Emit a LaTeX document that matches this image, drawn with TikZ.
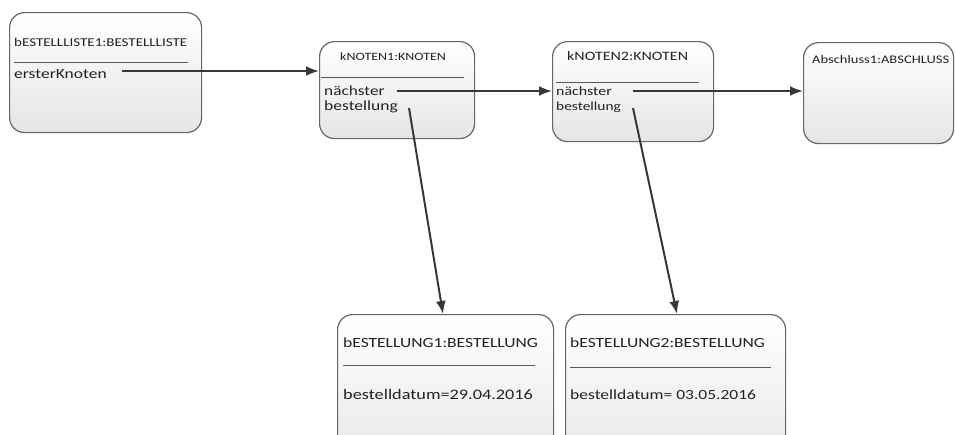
\documentclass[tikz,border=0pt]{standalone}
\usepackage{fontspec}
\setmainfont{Carlito}
\usetikzlibrary{arrows.meta}
\definecolor{edge}{HTML}{666666}
\definecolor{ink}{HTML}{222222}
\definecolor{arrowc}{HTML}{383838}
% horizontally widened text at a given size (px)
\newcommand{\widetxt}[2]{\scalebox{1.25}[1]{\fontsize{#1}{#1}\selectfont #2}}
\begin{document}
\begin{tikzpicture}[x=1pt,y=-1pt,
  objbox/.style={draw=edge, line width=1.2pt, rounded corners=15pt,
    top color=white, bottom color=black!10, anchor=north west, inner sep=0pt},
  lbl/.style={anchor=base west, inner sep=0pt, text=ink},
  sepline/.style={draw=ink!75, line width=1pt},
  link/.style={draw=arrowc, line width=2pt, -{Latex[length=13pt,width=10pt]}}]
\useasboundingbox (0,0) rectangle (955,434);
\clip (0,0) rectangle (955,434);

% object boxes
\node[objbox, minimum width=192pt, minimum height=120pt] (b1) at (9,12) {};
\node[objbox, minimum width=155pt, minimum height=97pt] (k1) at (319,41) {};
\node[objbox, minimum width=161pt, minimum height=100pt] (k2) at (552,41) {};
\node[objbox, minimum width=150pt, minimum height=101pt] (a1) at (803,42) {};
\node[objbox, minimum width=216pt, minimum height=160pt] (be1) at (337,314) {};
\node[objbox, minimum width=220pt, minimum height=160pt] (be2) at (565,314) {};

% bESTELLLISTE1
\node[lbl] (b1t) at (14,46) {\widetxt{12}{bESTELLLISTE1:BESTELLLISTE}};
\draw[sepline] (14,62) -- (188,62);
\node[lbl] (b1a) at (14,78) {\widetxt{14}{ersterKnoten}};

% kNOTEN1
\node[lbl] (k1t) at (340,60) {\widetxt{11.2}{kNOTEN1:KNOTEN}};
\draw[sepline] (321,77) -- (464,77);
\node[lbl] (k1n) at (324,95) {\widetxt{13.8}{nächster}};
\node[lbl] (k1b) at (324,110) {\widetxt{14}{bestellung}};

% kNOTEN2
\node[lbl] (k2t) at (567,60) {\widetxt{12.8}{kNOTEN2:KNOTEN}};
\draw[sepline] (556,82) -- (699,82);
\node[lbl] (k2n) at (556,95) {\widetxt{12.7}{nächster}};
\node[lbl] (k2b) at (556,110) {\widetxt{12.3}{bestellung}};

% Abschluss1
\node[lbl] (a1t) at (812,63) {\widetxt{11.6}{Abschluss1:ABSCHLUSS}};

% bESTELLUNG1
\node[lbl] (be1t) at (343,347) {\widetxt{14}{bESTELLUNG1:BESTELLUNG}};
\draw[sepline] (343,365) -- (535,365);
\node[lbl] (be1d) at (343,399) {\widetxt{14.6}{bestelldatum=29.04.2016}};

% bESTELLUNG2
\node[lbl] (be2t) at (570,347) {\widetxt{14}{bESTELLUNG2:BESTELLUNG}};
\draw[sepline] (570,367) -- (771,367);
\node[lbl] (be2d) at (570,399) {\widetxt{14}{bestelldatum= 03.05.2016}};

% reference links
\coordinate (s1) at (122,71);
\coordinate (s2) at (397,91);
\coordinate (s3) at (633,91);
\coordinate (s4) at (409,108);
\coordinate (s5) at (633,108);
\draw[link] (s1) -- (s1 -| k1.west);
\draw[link] (s2) -- (s2 -| k2.west);
\draw[link] (s3) -- (s3 -| a1.west);
\draw[link] (s4) -- ([xshift=106pt]be1.north west);
\draw[link] (s5) -- ([xshift=112pt]be2.north west);
\end{tikzpicture}
\end{document}
